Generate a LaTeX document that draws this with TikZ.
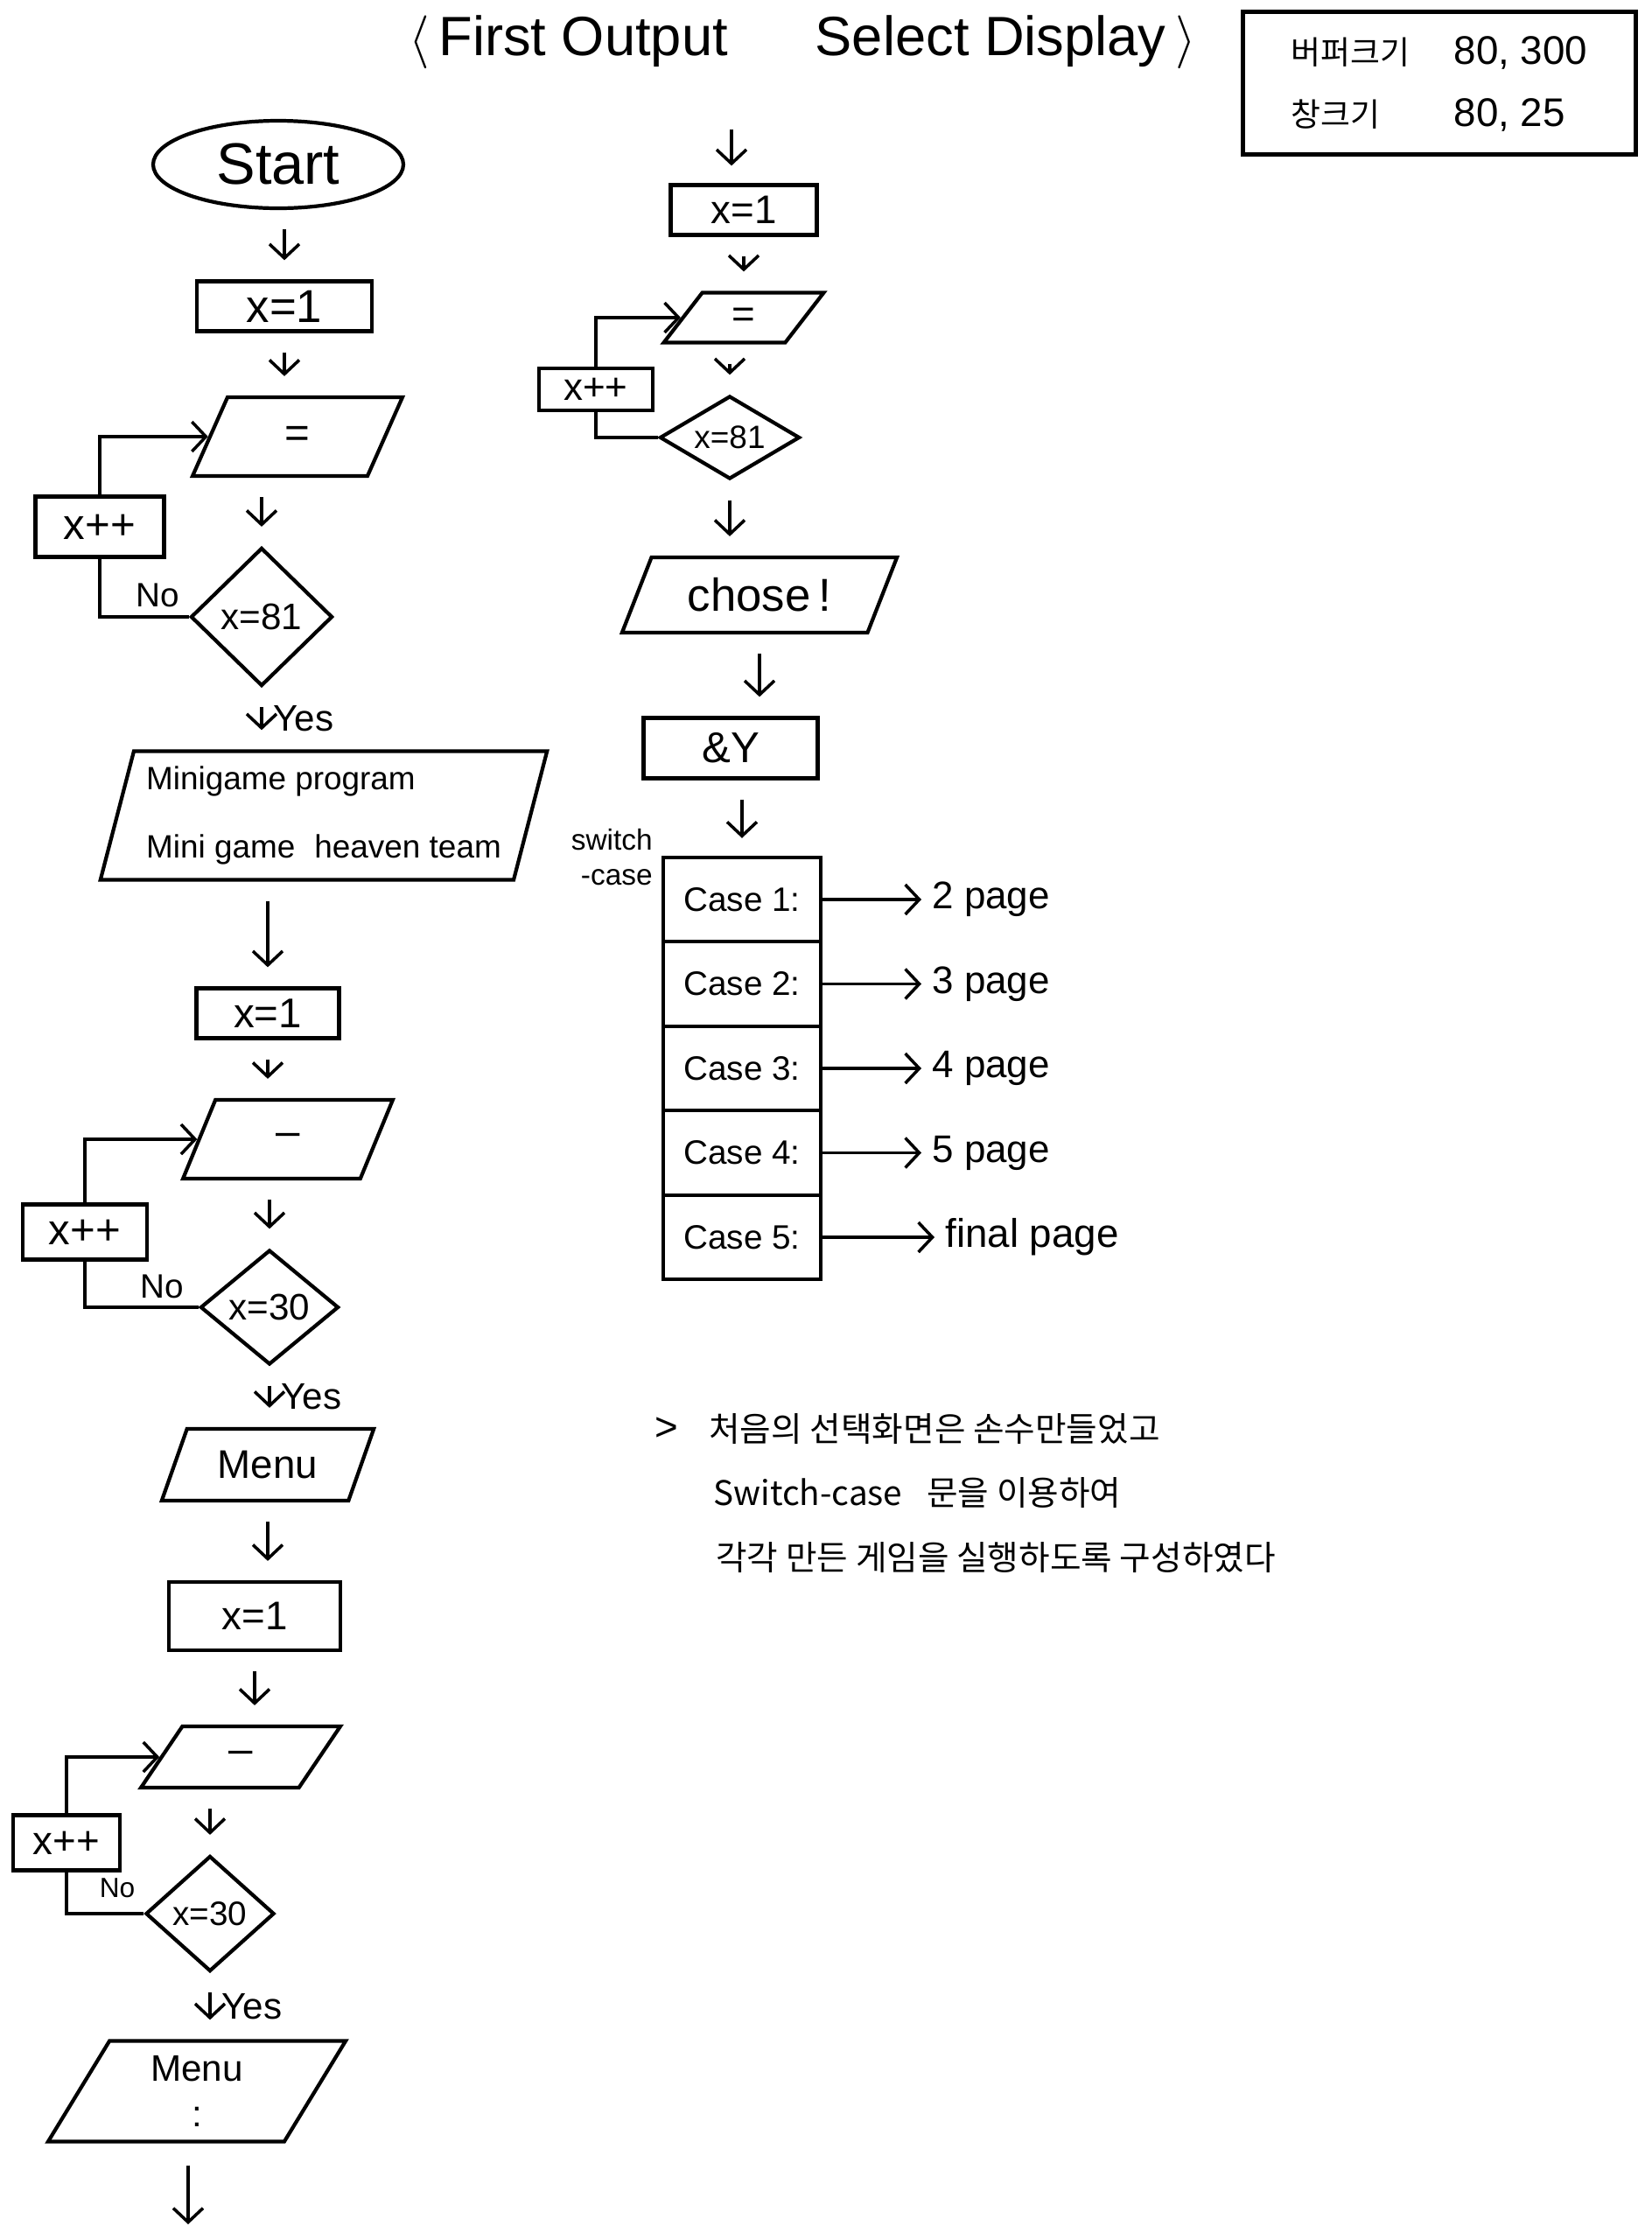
\documentclass[tikz,border=0pt]{standalone}
\usepackage{fontspec}
\setmainfont{Liberation Sans}
\newfontfamily\kor{Noto Sans CJK KR}
\usetikzlibrary{shapes.geometric, arrows.meta, positioning, calc}
\newcommand{\fsz}[1]{\fontsize{#1}{#1}\selectfont}

\tikzset{
  box/.style={draw, rectangle, line width=1.2pt, inner sep=1pt},
  io/.style={draw, trapezium, trapezium stretches=true, trapezium left angle=#1, trapezium right angle=180-#1, line width=1.2pt, inner sep=1pt},
  io/.default=65,
  decide/.style={draw, diamond, aspect=#1, inner sep=0pt, line width=1.2pt},
  decide/.default=1,
  casebox/.style={draw, rectangle, line width=1.2pt, outer sep=0pt, minimum width=1.8cm, minimum height=0.965cm, font=\fsz{11}},
  flow/.style={-{Straight Barb[length=1.6mm,width=3.4mm]}, line width=1pt},
  short/.style={shorten <=2.2mm, shorten >=2.2mm},
  link/.style={line width=1pt}
}

\begin{document}
\begin{tikzpicture}
    \useasboundingbox (0,0) rectangle (18.88,-25.60);

    % title and window sizes
    \node[font=\fsz{18}, inner sep=1pt] (title) at (9.17,-0.48) {$\big\langle$\,First Output\hspace{1cm}Select Display\,$\big\rangle$};
    \node[box, minimum width=4.49cm, minimum height=1.63cm, font=\fontsize{13}{20}\selectfont] (sizebox) at (16.45,-0.95)
        {\begin{tabular}{@{}l@{\hspace{0.5cm}}l@{}}{\kor\fsz{10.5}버퍼크기} & 80, 300\\ {\kor\fsz{10.5}창크기} & 80, 25\end{tabular}};

    % left column: first loop
    \node[ellipse, draw, line width=1.2pt, minimum width=2.86cm, minimum height=0.98cm, font=\fsz{19}] (start) at (3.18,-1.88) {Start};
    \node[box, minimum width=2.0cm, minimum height=0.57cm, font=\fsz{15}] (init1) at (3.25,-3.50) {x=1};
    \node[io=74, minimum width=2.4cm, minimum height=0.9cm, font=\fsz{14}] (out1) at (3.40,-4.99) {=};
    \node[decide, minimum width=1.62cm, minimum height=1.58cm, font=\fsz{12}] (chk1) at (2.99,-7.05) {x=81};
    \node[box, minimum width=1.47cm, minimum height=0.69cm, font=\fsz{14}] (inc1) at (1.14,-6.02) {x++};
    \node[font=\fsz{11}] (no1) at (1.80,-6.80) {No};
    \node[io=73, minimum width=5.11cm, minimum height=1.47cm, align=left, font=\fontsize{10.5}{22}\selectfont] (game) at (3.70,-9.32)
        {Minigame program\\Mini game\hspace{0.6em}heaven team};

    \draw[flow, short] (init1.north |- start.south) -- (init1.north);
    \draw[flow, short] (init1.south) -- (init1.south |- out1.north);
    \draw[flow, short] (chk1.north |- out1.south) -- (chk1.north);
    \draw[link] (chk1.west) -| (inc1.south);
    \draw[flow] (inc1.north) |- (out1.west);
    \draw[flow, short] (chk1.south) -- node[right, font=\fsz{12}] (yes1) {Yes} (chk1.south |- game.north);

    % left column: second loop
    \node[box, minimum width=1.63cm, minimum height=0.57cm, font=\fsz{13.5}] (init2) at (3.06,-11.58) {x=1};
    \node[io=70, minimum width=2.40cm, minimum height=0.90cm, font=\fsz{14}] (out2) at (3.29,-13.02) {–};
    \node[decide=1.2, minimum width=1.58cm, minimum height=1.31cm, font=\fsz{12}] (chk2) at (3.08,-14.94) {x=30};
    \node[box, minimum width=1.42cm, minimum height=0.63cm, font=\fsz{14}] (inc2) at (0.97,-14.08) {x++};
    \node[font=\fsz{11}] (no2) at (1.85,-14.70) {No};
    \node[io=64, minimum width=2.43cm, minimum height=0.82cm, font=\fsz{13}] (menu1) at (3.06,-16.74) {Menu};

    \draw[flow, short] (init2.north |- game.south) -- (init2.north);
    \draw[flow, short] (init2.south) -- (init2.south |- out2.north);
    \draw[flow, short] (chk2.north |- out2.south) -- (chk2.north);
    \draw[link] (chk2.west) -| (inc2.south);
    \draw[flow] (inc2.north) |- (out2.west);
    \draw[flow, short] (chk2.south) -- node[right, font=\fsz{12}] (yes2) {Yes} (chk2.south |- menu1.north);

    % left column: third loop
    \node[box, minimum width=1.96cm, minimum height=0.78cm, font=\fsz{13}] (init3) at (2.91,-18.47) {x=1};
    \node[io=60, minimum width=2.28cm, minimum height=0.70cm, font=\fsz{14}] (out3) at (2.75,-20.08) {–};
    \node[decide=1.1, minimum width=1.47cm, minimum height=1.32cm, font=\fsz{11}] (chk3) at (2.40,-21.87) {x=30};
    \node[box, minimum width=1.22cm, minimum height=0.63cm, font=\fsz{13}] (inc3) at (0.76,-21.06) {x++};
    \node[font=\fsz{9}] (no3) at (1.34,-21.58) {No};
    \node[io=66, minimum width=3.41cm, minimum height=1.15cm, align=center, font=\fsz{12}] (menu2) at (2.25,-23.90) {Menu\\[3pt]:};
    \coordinate (end) at (2.15,-25.42);

    \draw[flow, short] (menu1.south) -- (menu1.south |- init3.north);
    \draw[flow, short] (init3.south) -- (init3.south |- out3.north);
    \draw[flow, short] (chk3.north |- out3.south) -- (chk3.north);
    \draw[link] (chk3.west) -| (inc3.south);
    \draw[flow] (inc3.north) |- (out3.west);
    \draw[flow, short] (chk3.south) -- node[right, font=\fsz{12}] (yes3) {Yes} (chk3.south |- menu2.north);
    \draw[flow, shorten <=2.5mm] (end |- menu2.south) -- (end);

    % right column: select display
    \coordinate (rtop) at (8.36,-1.48);
    \node[box, minimum width=1.67cm, minimum height=0.57cm, font=\fsz{13}] (rinit) at (8.50,-2.40) {x=1};
    \node[io=62, minimum width=1.83cm, minimum height=0.57cm, font=\fsz{13}] (rout) at (8.50,-3.63) {=};
    \node[decide=1.7, minimum width=1.60cm, minimum height=0.95cm, font=\fsz{10.5}] (rchk) at (8.34,-5.00) {x=81};
    \node[box, minimum width=1.30cm, minimum height=0.48cm, font=\fsz{12.5}] (rinc) at (6.81,-4.45) {x++};
    \node[io=63, minimum width=3.15cm, minimum height=0.86cm, font=\fsz{15}] (rchose) at (8.68,-6.80) {chose\,!};
    \node[box, minimum width=1.99cm, minimum height=0.69cm, font=\fsz{14}] (rscan) at (8.35,-8.55) {\&Y\hspace{0.5cm}};

    \draw[flow, shorten >=2mm] (rtop) -- (rtop |- rinit.north);
    \draw[flow, short] (rinit.south) -- (rinit.south |- rout.north);
    \draw[flow, short] (rchk.north |- rout.south) -- (rchk.north);
    \draw[link] (rchk.west) -| (rinc.south);
    \draw[flow] (rinc.north) |- (rout.west);
    \draw[flow, short] (rchk.south) -- (rchk.south |- rchose.north);
    \draw[flow, short] (rchose.south) -- (rchose.south |- rscan.north);

    % switch-case table
    \node[casebox] (c1) at (8.48,-10.28) {Case 1:};
    \node[casebox, below=0pt of c1] (c2) {Case 2:};
    \node[casebox, below=0pt of c2] (c3) {Case 3:};
    \node[casebox, below=0pt of c3] (c4) {Case 4:};
    \node[casebox, below=0pt of c4] (c5) {Case 5:};
    \node[font=\fsz{9.5}, align=right, left=0pt of c1.north west] (sw) {switch\\[2pt]-case};
    \draw[flow, short] (c1.north |- rscan.south) -- (c1.north);

    \node[font=\fsz{12.5}, right=1.15cm of c1] (d1) {2 page};
    \node[font=\fsz{12.5}, right=1.15cm of c2] (d2) {3 page};
    \node[font=\fsz{12.5}, right=1.15cm of c3] (d3) {4 page};
    \node[font=\fsz{12.5}, right=1.15cm of c4] (d4) {5 page};
    \node[font=\fsz{13}, right=1.30cm of c5] (d5) {final page};
    \draw[flow] (c1) -- (d1);
    \draw[flow] (c2) -- (d2);
    \draw[flow] (c3) -- (d3);
    \draw[flow] (c4) -- (d4);
    \draw[flow] (c5) -- (d5);

    % notes
    \node[font=\fsz{13}] (gt) at (7.62,-16.33) {>};
    \node[anchor=west, font=\kor\fsz{11}] (note1) at (7.98,-16.33) {처음의 선택화면은 손수만들었고};
    \node[anchor=west, font=\kor\fsz{11}] (note2) at (8.03,-17.06) {Switch-case\hspace{0.5em} 문을 이용하여};
    \node[anchor=west, font=\kor\fsz{11}] (note3) at (8.06,-17.80) {각각 만든 게임을 실행하도록 구성하였다};
\end{tikzpicture}
\end{document}
